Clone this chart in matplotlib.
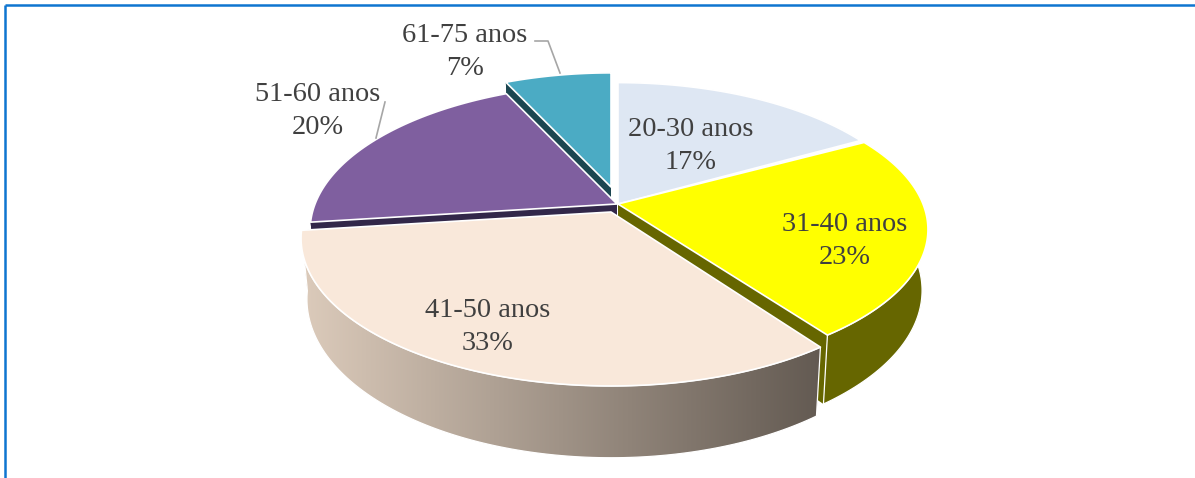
import numpy as np
import matplotlib as mpl
mpl.use("Agg")
import matplotlib.pyplot as plt
from matplotlib.patches import Polygon

# data
categories = ["20-30 anos", "31-40 anos", "41-50 anos", "51-60 anos", "61-75 anos"]
values = [17, 23, 33, 20, 7]

# styles per slice
top_colors = ["#dee7f3", "#ffff00", "#f9e8da", "#7f5f9f", "#4babc4"]
wall_colors = ["#ffffff", "#666600", "#635a52", "#322749", "#1c4650"]
offsets = [(0, 0), (0, 0), (-7, 8), (-1, 0), (-7, -17)]  # exploded slices, px
scales_x = [0.985, 1.0, 1.0, 0.99, 0.94]
scales_y = [1.0, 0.97, 1.0, 0.99, 0.94]
label_pos = [(691, 146), (845, 241), (488, 327), (318, 111), (465, 52)]
draw_order = [0, 4, 3, 1, 2]

# pie geometry in pixels
cx, cy = 618, 204
a, b, p = 305, 143, 0.178
depth = 59
shrink = 0.981  # bottom rim is a bit narrower than the top one


def project(angle, sx, sy):
    # angle in radians, clockwise from the top, with a little perspective
    w = 1 + p * np.cos(angle)
    return sx * a * np.sin(angle) / w, -sy * b * np.cos(angle) / w, w


fig = plt.figure(figsize=(11.95, 4.78), dpi=100)
ax = fig.add_axes([0, 0, 1, 1])

ends = np.cumsum(values) / sum(values) * 2 * np.pi
starts = np.concatenate([[0], ends[:-1]])

for n, i in enumerate(draw_order):
    dx, dy = offsets[i]
    ang = np.linspace(starts[i], ends[i], 120)
    rx, ry, w = project(ang, scales_x[i], scales_y[i])
    tipx, tipy = cx + dx, cy + dy
    x, y = tipx + rx, tipy + ry
    xb, yb = tipx + rx * shrink, tipy + ry + depth / w

    # flat cut walls
    for k in (0, -1):
        ax.fill([tipx, x[k], xb[k], tipx], [tipy, y[k], yb[k], tipy + depth],
                color=wall_colors[i], lw=0, zorder=1 + n * 3)

    # outer wall, only the two front slices really show it
    wall_x = np.r_[x, xb[::-1]]
    wall_y = np.r_[y, yb[::-1]]
    if i == 2:
        # the big slice has a shaded wall, light to dark
        grad = np.linspace(0, 1, 256).reshape(1, -1)
        cmap = mpl.colors.LinearSegmentedColormap.from_list("wall", ["#dccbbb", "#635a52"])
        im = ax.imshow(grad, cmap=cmap, aspect="auto", extent=[wall_x.min(), wall_x.max(), wall_y.max(), wall_y.min()],
                       zorder=2 + n * 3)
        poly = Polygon(np.c_[wall_x, wall_y], closed=True, facecolor="none", edgecolor="white", lw=0.9,
                       zorder=2 + n * 3)
        ax.add_patch(poly)
        im.set_clip_path(poly)
    elif i == 1:
        ax.fill(wall_x, wall_y, facecolor=wall_colors[i], edgecolor="white", lw=0.9, zorder=2 + n * 3)
    else:
        ax.fill(wall_x, wall_y, facecolor=wall_colors[i], lw=0, zorder=2 + n * 3)

    # top face
    ax.fill(np.r_[tipx, x], np.r_[tipy, y], facecolor=top_colors[i], edgecolor="white", lw=1.2,
            joinstyle="round", zorder=3 + n * 3)

# leader lines
ax.plot([535, 548, 560], [41, 41, 73], color="#a6a6a6", lw=1.2, zorder=30)
ax.plot([385, 376], [102, 138], color="#a6a6a6", lw=1.2, zorder=30)

# labels
for name, val, (tx, ty) in zip(categories, values, label_pos):
    ax.text(tx, ty, f"{name}\n{val}%", ha="center", va="center", family="Liberation Serif",
            fontsize=20.4, color="#404040", linespacing=1.38, zorder=31)

# frame of the picture
ax.plot([5, 5], [478, 5], color="#0f75d0", lw=1.8, zorder=40, solid_capstyle="butt")
ax.plot([5, 1195], [5, 5], color="#0f75d0", lw=1.8, zorder=40, solid_capstyle="butt")

ax.set_xlim(0, 1195)
ax.set_ylim(478, 0)
ax.axis("off")

fig.savefig("out.png", dpi=100)
